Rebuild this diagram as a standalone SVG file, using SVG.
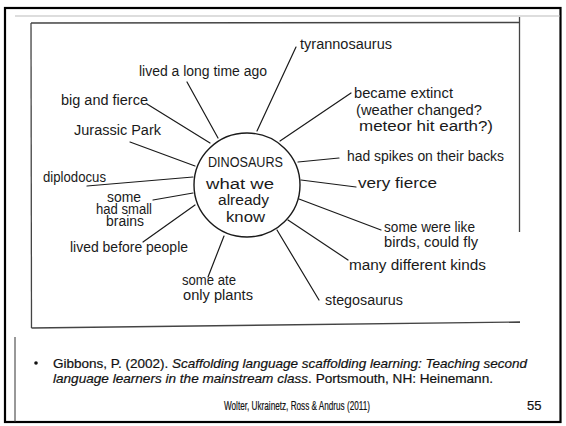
<svg xmlns="http://www.w3.org/2000/svg" width="566" height="426" viewBox="0 0 566 426">
<style>
.hw{font-family:"Liberation Sans","DejaVu Sans",sans-serif;font-size:14px;fill:#1a1a1a}
.sp{stroke:#1a1a1a;stroke-width:1.2;fill:none;stroke-linecap:round}
.ref{font-family:"Liberation Sans",Arial,sans-serif;font-size:13px;fill:#111;stroke:#111;stroke-width:0.2}
</style>
<rect width="566" height="426" fill="#fff"/>
<!-- slide frame -->
<rect x="5" y="8" width="555.5" height="414" fill="none" stroke="#000" stroke-width="2.2"/>
<line x1="15" y1="16" x2="560" y2="16" stroke="#bbb" stroke-width="1"/>
<line x1="15" y1="337" x2="15" y2="422" stroke="#333" stroke-width="1"/>
<!-- scanned picture frame -->
<g id="picture-frame" fill="none" stroke="#444" stroke-width="1.3">
<line x1="31" y1="23" x2="519" y2="22.5"/>
<line x1="31" y1="23" x2="31.5" y2="328"/>
<line x1="31.5" y1="328" x2="520" y2="322"/>
<line x1="519.5" y1="17" x2="519.5" y2="232"/>
</g>
<!-- connectors -->
<g id="connectors" class="sp">
<line x1="296" y1="47" x2="257" y2="131"/>
<line x1="187" y1="82" x2="218" y2="138"/>
<line x1="147" y1="104" x2="210" y2="143"/>
<line x1="130" y1="142" x2="195" y2="166"/>
<line x1="87" y1="186" x2="193" y2="177"/>
<line x1="153" y1="200" x2="193" y2="193"/>
<line x1="143" y1="242" x2="195" y2="205"/>
<line x1="208" y1="277" x2="224" y2="236"/>
<line x1="319" y1="300" x2="277" y2="230"/>
<line x1="348" y1="260" x2="288" y2="220"/>
<line x1="381" y1="230" x2="299" y2="199"/>
<line x1="356" y1="187" x2="301" y2="180"/>
<line x1="339" y1="158" x2="298" y2="162"/>
<line x1="351" y1="93" x2="280" y2="141"/>
</g>
<!-- centre -->
<g id="center">
<ellipse cx="247" cy="185" rx="53" ry="52" fill="none" stroke="#1a1a1a" stroke-width="1.4"/>
<text class="hw" x="208" y="167" font-size="11" textLength="75" lengthAdjust="spacingAndGlyphs">DINOSAURS</text>
<text class="hw" x="206" y="189" font-size="16" textLength="68" lengthAdjust="spacingAndGlyphs">what we</text>
<text class="hw" x="218" y="205" font-size="15" textLength="51" lengthAdjust="spacingAndGlyphs">already</text>
<text class="hw" x="226" y="222" font-size="15" textLength="39" lengthAdjust="spacingAndGlyphs">know</text>
</g>
<g id="n-tyrannosaurus"><text class="hw" x="300" y="49" textLength="92" lengthAdjust="spacingAndGlyphs">tyrannosaurus</text></g>
<g id="n-lived-long"><text class="hw" x="139" y="76" textLength="128" lengthAdjust="spacingAndGlyphs">lived a long time ago</text></g>
<g id="n-big-fierce"><text class="hw" x="61" y="105" textLength="87" lengthAdjust="spacingAndGlyphs">big and fierce</text></g>
<g id="n-jurassic"><text class="hw" x="74" y="135" textLength="87" lengthAdjust="spacingAndGlyphs">Jurassic Park</text></g>
<g id="n-diplodocus"><text class="hw" x="43" y="182" textLength="63" lengthAdjust="spacingAndGlyphs">diplodocus</text></g>
<g id="n-small-brains">
<text class="hw" x="107" y="201.5" font-size="9.5" textLength="34" lengthAdjust="spacingAndGlyphs">some</text>
<text class="hw" x="96" y="213.5" font-size="9.5" textLength="56" lengthAdjust="spacingAndGlyphs">had small</text>
<text class="hw" x="106" y="225.5" font-size="9.5" textLength="38" lengthAdjust="spacingAndGlyphs">brains</text>
</g>
<g id="n-lived-before"><text class="hw" x="70" y="252" textLength="118" lengthAdjust="spacingAndGlyphs">lived before people</text></g>
<g id="n-plants">
<text class="hw" x="182" y="285" font-size="13" textLength="54" lengthAdjust="spacingAndGlyphs">some ate</text>
<text class="hw" x="183" y="300" font-size="13" textLength="70" lengthAdjust="spacingAndGlyphs">only plants</text>
</g>
<g id="n-stegosaurus"><text class="hw" x="325" y="305" textLength="78" lengthAdjust="spacingAndGlyphs">stegosaurus</text></g>
<g id="n-kinds"><text class="hw" x="349" y="270" textLength="137" lengthAdjust="spacingAndGlyphs">many different kinds</text></g>
<g id="n-birds">
<text class="hw" x="384" y="232" font-size="13" textLength="91" lengthAdjust="spacingAndGlyphs">some were like</text>
<text class="hw" x="384" y="246.5" font-size="13" textLength="94" lengthAdjust="spacingAndGlyphs">birds, could fly</text>
</g>
<g id="n-very-fierce"><text class="hw" x="358" y="188" textLength="79" lengthAdjust="spacingAndGlyphs">very fierce</text></g>
<g id="n-spikes"><text class="hw" x="347" y="161" textLength="157" lengthAdjust="spacingAndGlyphs">had spikes on their backs</text></g>
<g id="n-extinct">
<text class="hw" x="354" y="98" textLength="99" lengthAdjust="spacingAndGlyphs">became extinct</text>
<text class="hw" x="356" y="115" textLength="126" lengthAdjust="spacingAndGlyphs">(weather changed?</text>
<text class="hw" x="359" y="131" textLength="134" lengthAdjust="spacingAndGlyphs">meteor hit earth?)</text>
</g>
<!-- reference -->
<g id="reference">
<circle cx="36" cy="363" r="1.8" fill="#111"/>
<text class="ref" x="53" y="367.5" textLength="474" lengthAdjust="spacingAndGlyphs">Gibbons, P. (2002). <tspan font-style="italic">Scaffolding language scaffolding learning: Teaching second</tspan></text>
<text class="ref" x="53" y="382.5" textLength="440" lengthAdjust="spacingAndGlyphs"><tspan font-style="italic">language learners in the mainstream class</tspan>. Portsmouth, NH: Heinemann.</text>
</g>
<g id="footer">
<text class="ref" x="224" y="410" font-size="8" stroke-width="0" textLength="146" lengthAdjust="spacingAndGlyphs">Wolter, Ukrainetz, Ross &amp; Andrus (2011)</text>
<text class="ref" x="527" y="410" font-size="8" stroke-width="0">55</text>
</g>
</svg>
